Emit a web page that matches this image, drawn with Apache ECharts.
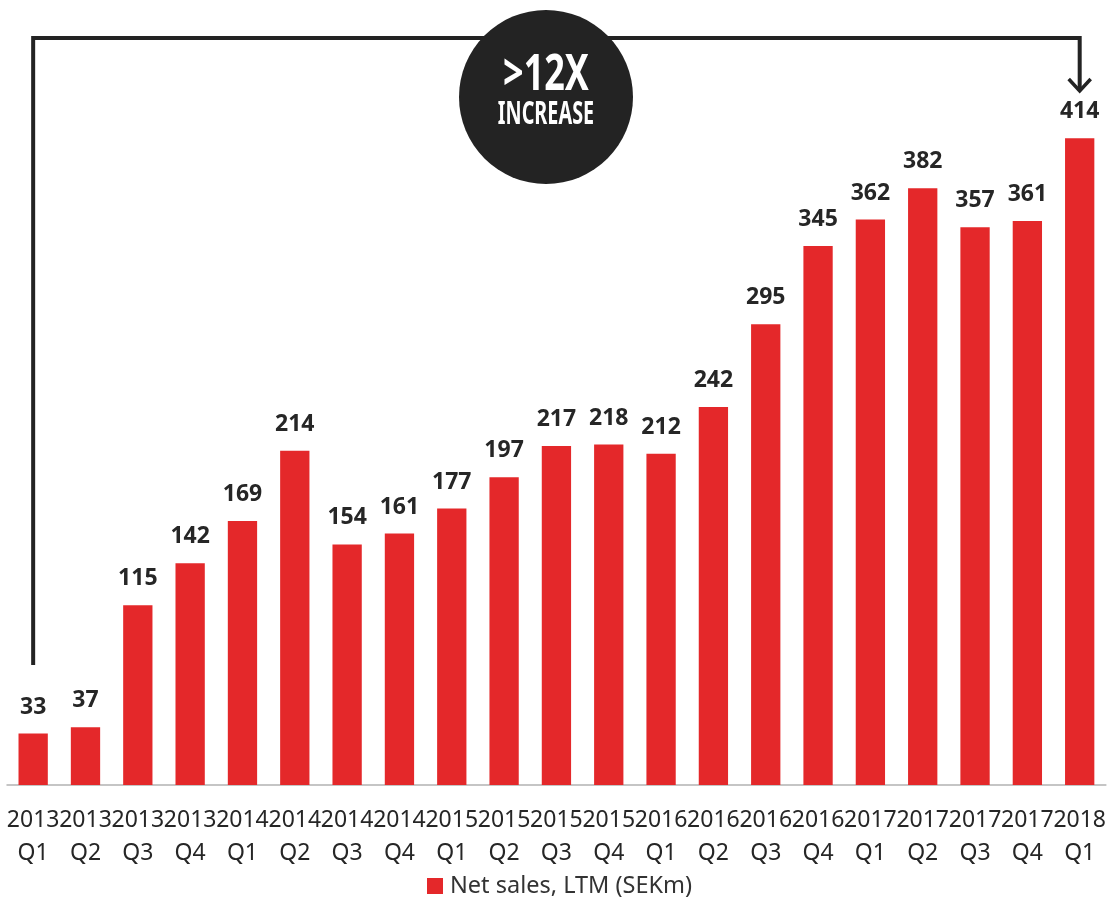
<!DOCTYPE html>
<html>
<head>
<meta charset="utf-8">
<script src="https://cdn.jsdelivr.net/npm/echarts@6/dist/echarts.min.js"></script>
<style>html,body{margin:0;padding:0;background:#fff}#c{width:1109px;height:905px}</style>
</head>
<body>
<div id="c"></div>
<script>
var years = ['2013','2013','2013','2013','2014','2014','2014','2014','2015','2015','2015','2015','2016','2016','2016','2016','2017','2017','2017','2017','2018'];
var quarters = ['Q1','Q2','Q3','Q4','Q1','Q2','Q3','Q4','Q1','Q2','Q3','Q4','Q1','Q2','Q3','Q4','Q1','Q2','Q3','Q4','Q1'];
var netSales = [33,37,115,142,169,214,154,161,177,197,217,218,212,242,295,345,362,382,357,361,414];
var seriesName = 'Net sales, LTM (SEKm)';
var badgeTop = '>12X';
var badgeBottom = 'INCREASE';

var categories = years.map(function(y,i){return y+'\n'+quarters[i];});
var chart = echarts.init(document.getElementById('c'));
var font = '"Noto Sans", "Open Sans", sans-serif';
chart.setOption({
  animation:false,
  grid:{left:7,right:3,top:4,bottom:120},
  legend:{bottom:2,left:422,itemWidth:16,itemHeight:16,icon:'rect',
    textStyle:{fontFamily:font,fontSize:23.5,color:'#333',padding:[0,0,0,2]},data:[seriesName]},
  xAxis:{type:'category',data:categories,
    axisLine:{lineStyle:{color:'#b3b3b3',width:1.5}},axisTick:{show:false},
    axisLabel:{interval:0,fontFamily:font,fontSize:23,lineHeight:33,color:'#262626',margin:19}},
  yAxis:{type:'value',min:0,max:500,show:false,splitLine:{show:false}},
  series:[{name:seriesName,type:'bar',data:netSales,barWidth:'56%',
    itemStyle:{color:'#e4282a'},
    label:{show:true,position:'top',distance:15,fontFamily:font,fontWeight:'bold',fontSize:23,color:'#262626'}}]
});
var xL = chart.convertToPixel({xAxisIndex:0},0);
var xR = chart.convertToPixel({xAxisIndex:0},categories.length-1);
var yTop = 38;
var cx = 546, cy = 97;
chart.setOption({graphic:[
  {type:'polyline',shape:{points:[[xL,665],[xL,yTop],[xR,yTop],[xR,91]]},style:{stroke:'#232323',lineWidth:4,fill:null}},
  {type:'polyline',shape:{points:[[xR-11,79],[xR,91],[xR+11,79]]},style:{stroke:'#232323',lineWidth:3.5,fill:null}},
  {type:'circle',shape:{cx:cx,cy:cy,r:87},style:{fill:'#232323'}},
  {type:'text',x:cx,y:76,scaleX:0.72,style:{text:badgeTop,fill:'#fff',font:'bold 50px "Noto Sans", sans-serif',align:'center',verticalAlign:'middle'}},
  {type:'text',x:cx,y:115,scaleX:0.6,style:{text:badgeBottom,fill:'#fff',font:'bold 33px "Noto Sans", sans-serif',align:'center',verticalAlign:'middle'}}
]});
</script>
</body>
</html>
